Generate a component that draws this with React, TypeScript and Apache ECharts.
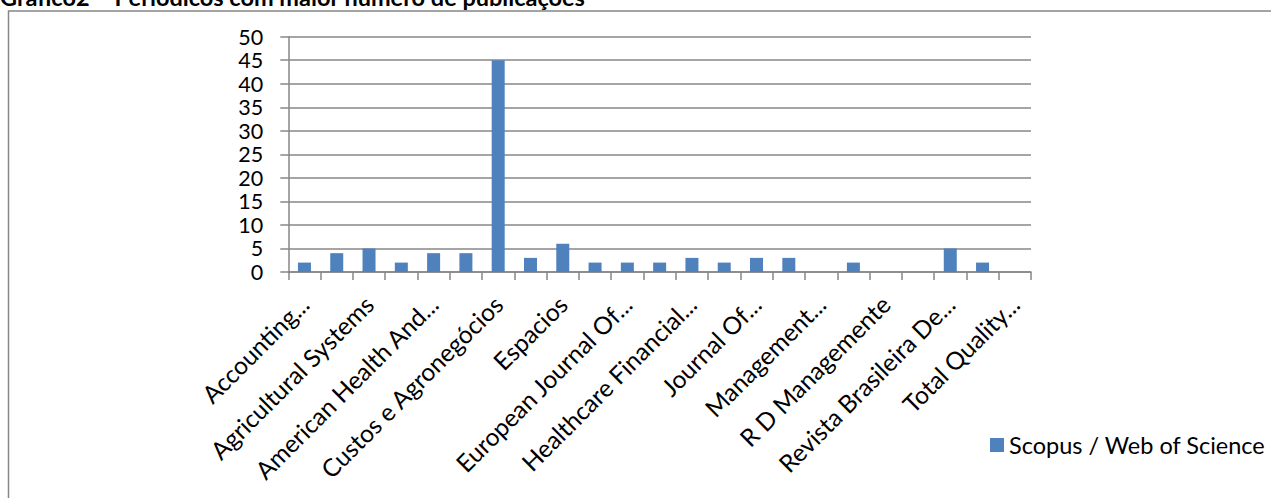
import React, { useEffect, useRef } from "react";
import * as echarts from "echarts";

const categories = [
  "Accounting...",
  "African Journal Of...",
  "Agricultural Systems",
  "Agriculture...",
  "American Health And...",
  "Brazilian Journal Of...",
  "Custos e Agronegócios",
  "Economia...",
  "Espacios",
  "Estudos...",
  "European Journal Of...",
  "Gestão & Produção",
  "Healthcare Financial...",
  "International Journal...",
  "Journal Of...",
  "Journal Of Cleaner...",
  "Management...",
  "Production...",
  "R D Managemente",
  "Revista Ambiente...",
  "Revista Brasileira De...",
  "Sustainability",
  "Total Quality...",
];
const values = [2, 4, 5, 2, 4, 4, 45, 3, 6, 2, 2, 2, 3, 2, 3, 3, 0, 2, 0, 0, 5, 2, 0];
const seriesName = "Scopus / Web of Science";
const titleText = "Gráfico2 – Periódicos com maior número de publicações";

const FONT = "Lato";
const GRAY = "#878787";

export default function App() {
  const ref = useRef<HTMLDivElement>(null);
  useEffect(() => {
    if (!ref.current) return;
    const chart = echarts.init(ref.current, null, { renderer: "svg" });
    chart.setOption({
      animation: false,
      backgroundColor: "#ffffff",
      textStyle: { fontFamily: FONT },
      graphic: [
        {
          type: "rect",
          shape: { x: 8.5, y: 11, width: 1400, height: 700 },
          style: { fill: "none", stroke: GRAY, lineWidth: 1.5 },
          silent: true,
        },
        {
          type: "text",
          x: 0,
          y: 9,
          style: {
            text: titleText,
            fontFamily: FONT,
            fontWeight: "bold",
            fontSize: 23.5,
            fill: "#000",
            textVerticalAlign: "bottom",
          },
        },
      ],
      legend: {
        show: true,
        left: 985,
        top: 428,
        icon: "rect",
        itemWidth: 14,
        itemHeight: 14,
        itemGap: 6,
        textStyle: { fontFamily: FONT, fontSize: 23.5, color: "#000" },
        data: [seriesName],
      },
      grid: { left: 288.3, right: 240, top: 36.7, bottom: 226, containLabel: false },
      xAxis: {
        type: "category",
        data: categories,
        boundaryGap: true,
        axisLine: { show: true, lineStyle: { color: GRAY, width: 1.5 } },
        axisTick: { show: true, length: 8, alignWithLabel: false, interval: 0, lineStyle: { color: GRAY, width: 1.5 } },
        axisLabel: {
          interval: 1,
          rotate: 45,
          margin: 28,
          verticalAlign: "middle",
          fontFamily: FONT,
          fontSize: 24.5,
          color: "#000",
        },
        splitLine: { show: false },
      },
      yAxis: {
        type: "value",
        min: 0,
        max: 50,
        interval: 5,
        axisLine: { show: true, lineStyle: { color: GRAY, width: 1.5 } },
        axisTick: { show: true, length: 8, lineStyle: { color: GRAY, width: 1.5 } },
        axisLabel: { margin: 25, fontFamily: FONT, fontSize: 21.5, lineHeight: 21, color: "#000" },
        splitLine: { show: true, lineStyle: { color: GRAY, width: 1.5 } },
      },
      series: [
        {
          name: seriesName,
          type: "bar",
          data: values,
          barWidth: 13,
          itemStyle: { color: "#4F81BD" },
        },
      ],
    });
    return () => chart.dispose();
  }, []);
  return <div ref={ref} style={{ width: 1271, height: 498, position: "absolute", left: 0, top: 0 }} />;
}
